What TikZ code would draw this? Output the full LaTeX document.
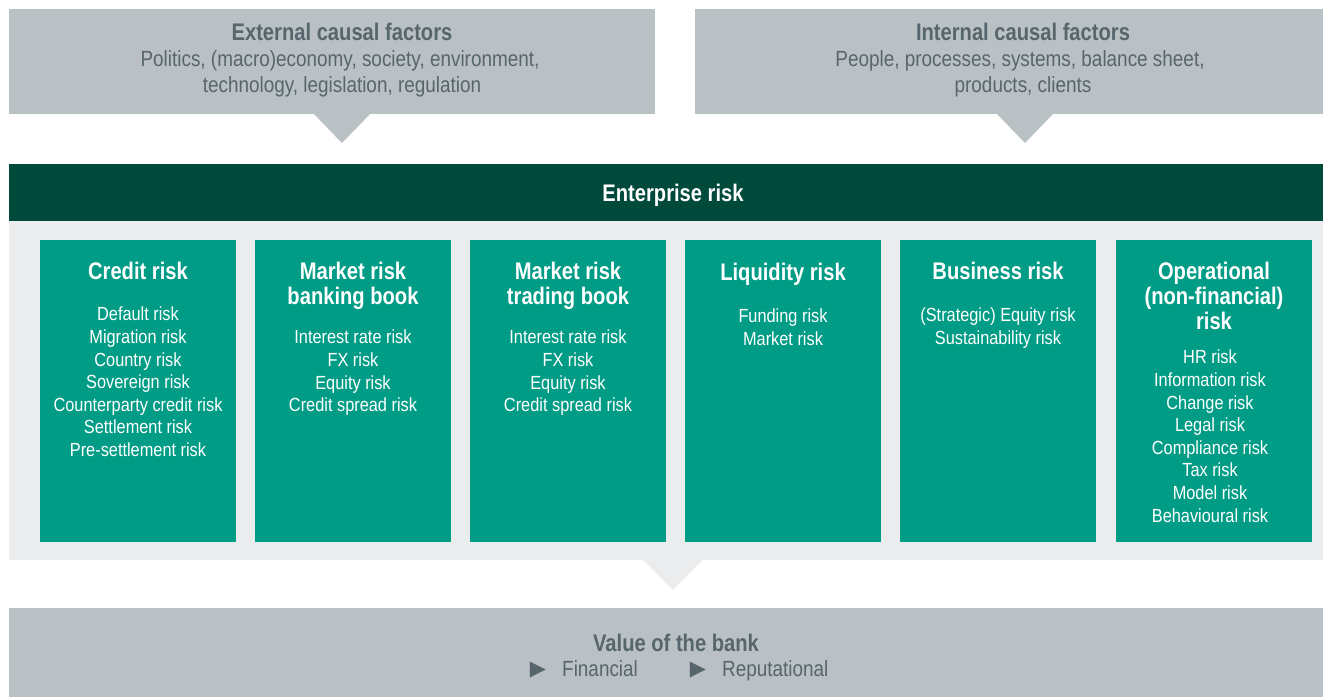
\documentclass[tikz,border=0pt]{standalone}
\usepackage{fontspec}
\setmainfont{Liberation Sans}
\newfontfamily\lightf[FakeStretch=0.86]{Liberation Sans}
\newfontfamily\headf[FakeStretch=0.84]{Liberation Sans}
\newfontfamily\symf{DejaVu Sans}
\definecolor{topgray}{HTML}{BAC1C4}
\definecolor{darktext}{HTML}{57656C}
\definecolor{darkgreen}{HTML}{004A3C}
\definecolor{lightgray}{HTML}{EBECEE}
\definecolor{teal}{HTML}{009C86}
\tikzset{
  panel/.style={fill=#1, draw=none, inner sep=0pt, outer sep=0pt, anchor=north west},
  col/.style={panel=teal, minimum width=196pt, minimum height=302pt},
  ctitle/.style={anchor=north, align=center, inner sep=0pt, text=white,
    font=\headf\bfseries\fontsize{24}{25}\selectfont, execute at begin node=\strut},
  cbody/.style={anchor=north, align=center, inner sep=0pt, text=white,
    font=\lightf\fontsize{19}{22.6}\selectfont, execute at begin node=\strut},
  gtitle/.style={anchor=base, inner sep=0pt, text=darktext,
    font=\headf\bfseries\fontsize{24}{26}\selectfont},
  gbody/.style={anchor=base, inner sep=0pt, text=darktext,
    font=\lightf\fontsize{22}{26}\selectfont},
  tri/.style={anchor=center, inner sep=0pt, text=darktext,
    font=\symf\fontsize{21}{24}\selectfont},
}
\begin{document}
\begin{tikzpicture}[x=1pt,y=-1pt]
\useasboundingbox (0,0) rectangle (1323,697);
\fill[white] (0,0) rectangle (1323,697);
% top boxes
\node[panel=topgray, minimum width=646pt, minimum height=105pt] (ext) at (9,9) {};
\node[panel=topgray, minimum width=628pt, minimum height=105pt] (int) at (695,9) {};
\fill[topgray] (313,113) -- (371,113) -- (342,143) -- cycle;
\fill[topgray] (996,113) -- (1054,113) -- (1025,143) -- cycle;
\node[gtitle] (extT) at (342,40.6) {External causal factors};
\node[gbody] (extB1) at (340,66.9) {Politics, (macro)economy, society, environment,};
\node[gbody] (extB2) at (342,92.9) {technology, legislation, regulation};
\node[gtitle] (intT) at (1023,40.6) {Internal causal factors};
\node[gbody] (intB1) at (1020,66.9) {People, processes, systems, balance sheet,};
\node[gbody] (intB2) at (1023,92.9) {products, clients};
% enterprise bar
\node[panel=darkgreen, minimum width=1314pt, minimum height=57pt] (ent) at (9,164) {};
\node[gtitle, text=white] (entT) at (673,201.6) {Enterprise risk};
% light area
\node[panel=lightgray, minimum width=1314pt, minimum height=339pt] (area) at (9,221) {};
\fill[lightgray] (643,559.5) -- (703,559.5) -- (673,590) -- cycle;
% columns
\node[col] (c1) at (40,240) {};
\node[col] (c2) at (255,240) {};
\node[col] (c3) at (470,240) {};
\node[col] (c4) at (685,240) {};
\node[col] (c5) at (900,240) {};
\node[col] (c6) at (1116,240) {};
\node[ctitle] (t1) at (138,262.1) {Credit risk};
\node[cbody] (b1) at (138,307) {Default risk\\Migration risk\\Country risk\\Sovereign risk\\Counterparty credit risk\\Settlement risk\\Pre-settlement risk};
\node[ctitle] (t2) at (353,262.1) {Market risk\\banking book};
\node[cbody] (b2) at (353,330) {Interest rate risk\\FX risk\\Equity risk\\Credit spread risk};
\node[ctitle] (t3) at (568,262.1) {Market risk\\trading book};
\node[cbody] (b3) at (568,330) {Interest rate risk\\FX risk\\Equity risk\\Credit spread risk};
\node[ctitle] (t4) at (783,263.1) {Liquidity risk};
\node[cbody] (b4) at (783,308.5) {Funding risk\\Market risk};
\node[ctitle] (t5) at (998,262.1) {Business risk};
\node[cbody] (b5) at (998,308) {(Strategic) Equity risk\\Sustainability risk};
\node[ctitle] (t6) at (1214,262.1) {Operational\\(non-financial)\\risk};
\node[cbody] (b6) at (1210,350) {HR risk\\Information risk\\Change risk\\Legal risk\\Compliance risk\\Tax risk\\Model risk\\Behavioural risk};
% bottom box
\node[panel=topgray, minimum width=1314pt, minimum height=89pt] (val) at (9,608) {};
\node[gtitle] (valT) at (676,651.6) {Value of the bank};
\node[tri] (tr1) at (538,670.5) {▶};
\node[gbody, anchor=base west] (fin) at (562,676.9) {Financial};
\node[tri] (tr2) at (698,670.5) {▶};
\node[gbody, anchor=base west] (rep) at (722,676.9) {Reputational};
\end{tikzpicture}
\end{document}
